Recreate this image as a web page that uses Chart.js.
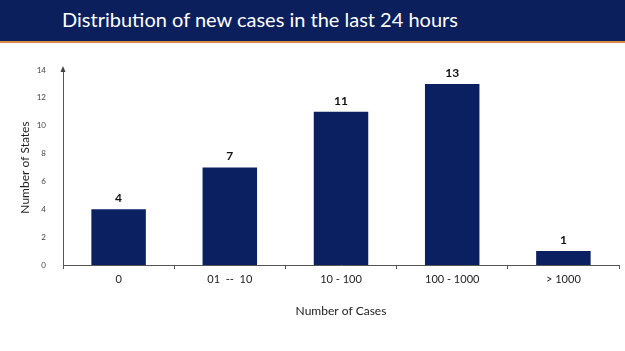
<!DOCTYPE html>
<html lang="en">
  <head>
    <meta charset="UTF-8" />
    <title>Distribution of new cases in the last 24 hours</title>
    <script src="https://cdn.jsdelivr.net/npm/chart.js"></script>
    <style>
      body {
        margin: 0;
        width: 625px;
        height: 351px;
        overflow: hidden;
        background: white;
        font-family: Lato, sans-serif;
      }
      #header {
        position: relative;
        height: 41px;
        background: #0b1f5c;
        border-bottom: 2px solid #e08a4a;
      }
      #header h1 {
        position: absolute;
        left: 62px;
        top: 7px;
        margin: 0;
        font-family: Lato, sans-serif;
        font-weight: normal;
        font-size: 20px;
        color: white;
        white-space: nowrap;
      }
      #chartContainer {
        width: 625px;
        height: 308px;
      }
    </style>
  </head>
  <body>
    <div id="header"><h1>Distribution of new cases in the last 24 hours</h1></div>
    <div id="chartContainer">
      <canvas id="casesChart" width="625" height="308"></canvas>
    </div>

    <script>
      const categories = ['0', '01  --  10', '10 - 100', '100 - 1000', '> 1000']
      const states = [4, 7, 11, 13, 1]
      const yTicks = [0, 2, 4, 6, 8, 10, 12, 14]

      // value labels above each bar + small arrow at the top of the y axis
      const barLabels = {
        id: 'barLabels',
        afterDatasetsDraw(chart) {
          const c = chart.ctx
          const meta = chart.getDatasetMeta(0)
          c.save()
          c.font = 'bold 12px Lato, sans-serif'
          c.fillStyle = '#111'
          c.textAlign = 'center'
          c.textBaseline = 'bottom'
          meta.data.forEach((bar, i) => {
            c.fillText(states[i], bar.x, bar.y - 5)
          })
          const a = chart.chartArea
          c.fillStyle = '#444'
          c.beginPath()
          c.moveTo(a.left, a.top - 4)
          c.lineTo(a.left - 2.5, a.top + 2)
          c.lineTo(a.left + 2.5, a.top + 2)
          c.closePath()
          c.fill()
          c.restore()
        },
      }

      const ctx = document.getElementById('casesChart').getContext('2d')
      new Chart(ctx, {
        type: 'bar',
        data: {
          labels: categories,
          datasets: [
            {
              label: 'Number of States',
              data: states,
              backgroundColor: '#0b2060',
              categoryPercentage: 1,
              barPercentage: 0.49,
            },
          ],
        },
        options: {
          responsive: false,
          animation: false,
          layout: { padding: { top: 27, right: 6, left: 0, bottom: 29 } },
          plugins: {
            legend: { display: false },
            tooltip: { enabled: false },
          },
          scales: {
            x: {
              grid: {
                drawOnChartArea: false,
                tickLength: 4,
                color: '#555',
              },
              border: { color: '#555' },
              ticks: {
                color: '#222',
                font: { family: 'Lato', size: 11 },
                padding: 4,
                maxRotation: 0,
              },
              title: {
                display: true,
                text: 'Number of Cases',
                color: '#222',
                font: { family: 'Lato', size: 12 },
                padding: { top: 14, bottom: 4 },
              },
              afterFit(scale) {
                scale.height = 57
              },
            },
            y: {
              min: 0,
              max: 14,
              afterBuildTicks(scale) {
                scale.ticks = yTicks.map((v) => ({ value: v }))
              },
              grid: { display: false },
              border: { color: '#555' },
              ticks: {
                color: '#444',
                font: { family: 'Lato', size: 8 },
                padding: 9,
              },
              title: {
                display: true,
                text: 'Number of States',
                color: '#222',
                font: { family: 'Lato', size: 12 },
                padding: { top: 18, bottom: 0 },
              },
              afterFit(scale) {
                scale.width = 63
              },
            },
          },
        },
        plugins: [barLabels],
      })
    </script>
  </body>
</html>
